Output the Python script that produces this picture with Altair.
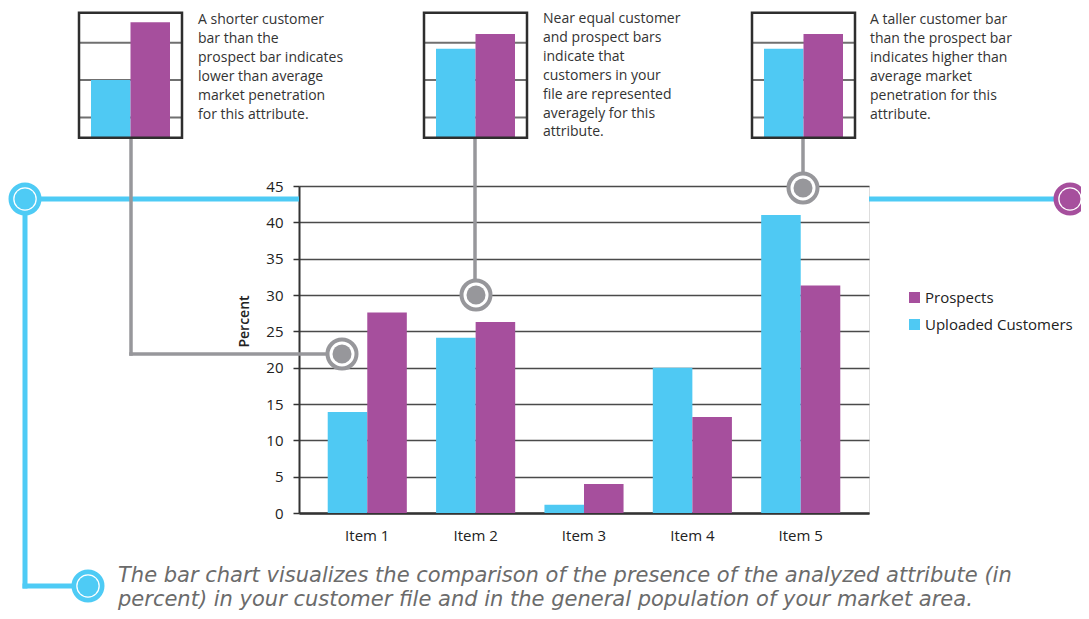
import altair as alt
import pandas as pd

# ---------------- data ----------------
items = ["Item 1", "Item 2", "Item 3", "Item 4", "Item 5"]
series_names = ["Uploaded Customers", "Prospects"]
legend_order = ["Prospects", "Uploaded Customers"]
customers = [13.9, 24.1, 1.15, 20.0, 41.0]
prospects = [27.6, 26.3, 4.0, 13.2, 31.3]
y_ticks = [0, 5, 10, 15, 20, 25, 30, 35, 40, 45]

mini1_values = [7.85, 15.7]
mini2_values = [12.1, 14.1]
mini3_values = [12.1, 14.1]
mini_grid = [2.75, 7.85, 12.9]

callout1 = ["A shorter customer", "bar than the", "prospect bar indicates",
            "lower than average", "market penetration", "for this attribute."]
callout2 = ["Near equal customer", "and prospect bars", "indicate that",
            "customers in your", "file are represented", "averagely for this",
            "attribute."]
callout3 = ["A taller customer bar", "than the prospect bar", "indicates higher than",
            "average market", "penetration for this", "attribute."]
footnote = ["The bar chart visualizes the comparison of the presence of the analyzed attribute (in",
            "percent) in your customer file and in the general population of your market area."]

# ---------------- styles ----------------
FONT = "Open Sans"
FOOT_FONT = "DejaVu Sans"
CYAN = "#4fc9f3"
PURPLE = "#a64f9d"
GRAY = "#97979b"
BLUE = "#4ecbf5"
DARK = "#333333"

W, H = 570, 327

df = pd.DataFrame({
    "item": items * 2,
    "series": [series_names[0]] * 5 + [series_names[1]] * 5,
    "value": customers + prospects,
})

color_scale = alt.Scale(domain=legend_order, range=[PURPLE, CYAN])

bars = alt.Chart(df).mark_bar().encode(
    x=alt.X("item:N", sort=items,
            scale=alt.Scale(domain=items, paddingInner=0.27, paddingOuter=0.265),
            axis=alt.Axis(title=None, labelAngle=0, ticks=False, labelPadding=15,
                          labelFontSize=15, labelFont=FONT, labelColor="#222",
                          labelFontWeight=500,
                          domainColor=DARK, domainWidth=2.5)),
    xOffset=alt.XOffset("series:N",
                        scale=alt.Scale(domain=series_names, paddingInner=0, paddingOuter=0)),
    y=alt.Y("value:Q", scale=alt.Scale(domain=[0, 45], nice=False),
            axis=alt.Axis(values=y_ticks, title="Percent", titleFont=FONT,
                          titleFontSize=14, titleFontWeight=600, titleColor="#222",
                          titleX=-55, titleY=135, titleAlign="center", titleBaseline="middle",
                          labelFont=FONT, labelFontSize=15, labelColor="#222",
                          labelPadding=10, tickSize=6, tickColor=DARK, tickWidth=1.5,
                          domainColor=DARK, domainWidth=2,
                          grid=True, gridColor="#4a4a4a", gridWidth=1.3)),
    color=alt.Color("series:N", scale=color_scale,
                    legend=alt.Legend(title=None, orient="none", legendX=608, legendY=104,
                                      symbolType="square", symbolSize=121,
                                      symbolStrokeWidth=0, symbolOpacity=1,
                                      labelFont=FONT, labelFontSize=15, labelColor="#222",
                                      labelFontWeight=500,
                                      rowPadding=11, labelOffset=3, padding=0)),
)

main = alt.layer(bars)

ONE = pd.DataFrame({"k": [0]})


def hline(x1, x2, y, color, w, cap="butt"):
    return alt.Chart(ONE).mark_rule(color=color, strokeWidth=w, strokeCap=cap).encode(
        x=alt.value(x1), x2=alt.value(x2), y=alt.value(y))


def vline(x, y1, y2, color, w, cap="butt"):
    return alt.Chart(ONE).mark_rule(color=color, strokeWidth=w, strokeCap=cap).encode(
        x=alt.value(x), y=alt.value(y1), y2=alt.value(y2))


def ring(x, y, color, ring_size, inner_size, sw):
    outer = alt.Chart(ONE).mark_point(shape="circle", filled=True, fill="white",
                                      stroke=color, strokeWidth=sw, size=ring_size,
                                      opacity=1, fillOpacity=1).encode(
        x=alt.value(x), y=alt.value(y))
    inner = alt.Chart(ONE).mark_point(shape="circle", filled=True, fill=color,
                                      strokeWidth=0, size=inner_size,
                                      opacity=1, fillOpacity=1).encode(
        x=alt.value(x), y=alt.value(y))
    return [outer, inner]


def text_block(lines, x, y, size, color, lh, font=FONT, style="normal"):
    return alt.Chart(ONE).mark_text(text=lines, align="left", baseline="top",
                                    font=font, fontSize=size, color=color,
                                    lineHeight=lh, fontStyle=style).encode(
        x=alt.value(x), y=alt.value(y))


def mini(values, bx0, bx1, fx0, fx1):
    yb, yt = -48.3, -173.3
    mdf = pd.DataFrame({"series": series_names, "value": values})
    gdf = pd.DataFrame({"g": mini_grid})
    yscale = alt.Scale(domain=[0, 17], range=[yb, yt], nice=False, zero=True)
    frame_bg = alt.Chart(ONE).mark_rect(fill="white", strokeWidth=0).encode(
        x=alt.value(fx0), x2=alt.value(fx1), y=alt.value(yt), y2=alt.value(yb))
    grid = alt.Chart(gdf).mark_rule(color="#707070", strokeWidth=2).encode(
        x=alt.value(fx0), x2=alt.value(fx1),
        y=alt.Y("g:Q", scale=yscale, axis=None))
    mbars = alt.Chart(mdf).mark_bar().encode(
        x=alt.X("series:N", sort=series_names,
                scale=alt.Scale(domain=series_names, range=[bx0, bx1],
                                paddingInner=0, paddingOuter=0),
                axis=None),
        y=alt.Y("value:Q", scale=yscale, axis=None),
        color=alt.Color("series:N", scale=color_scale, legend=None),
    )
    frame = alt.Chart(ONE).mark_rect(fill=None, fillOpacity=0, stroke="#2e2e2e",
                                     strokeWidth=2.5).encode(
        x=alt.value(fx0), x2=alt.value(fx1), y=alt.value(yt), y2=alt.value(yb))
    return alt.layer(frame_bg, grid, mbars, frame)


layers = [main]

# blue guide lines
layers += [
    hline(-274, 0, 13, BLUE, 5),
    hline(570, 771, 13, BLUE, 5),
    vline(-274, 13, 400, BLUE, 5, cap="square"),
    hline(-274, -211, 400, BLUE, 5, cap="square"),
]
# gray connectors
layers += [
    vline(-168, -48, 168, GRAY, 3.5, cap="square"),
    hline(-168, 43, 168, GRAY, 3.5, cap="square"),
    vline(176, -48, 109, GRAY, 3.5),
    vline(504, -48, 2, GRAY, 3.5),
]
# circles
layers += ring(43, 168, GRAY, 841, 361, 4)
layers += ring(177, 109, GRAY, 841, 361, 4)
layers += ring(504, 2, GRAY, 841, 361, 4)
layers += ring(-274, 13, BLUE, 800, 441, 4.7)
layers += ring(771, 13, PURPLE, 800, 441, 4.7)
layers += ring(-211, 400, BLUE, 800, 441, 4.7)

# mini charts
layers += [
    mini(mini1_values, -208, -129, -220, -117),
    mini(mini2_values, 137, 216, 125, 228),
    mini(mini3_values, 465, 544, 453, 556),
]

# texts
layers += [
    text_block(callout1, -101, -173, 14, "#333", 18.9),
    text_block(callout2, 244, -174, 14, "#333", 18.9),
    text_block(callout3, 571, -173, 14, "#333", 18.9),
    text_block(footnote, -181, 378.5, 21, "#6b6b6b", 24, font=FOOT_FONT, style="italic"),
]

chart = alt.layer(*layers).resolve_scale(
    x="independent", y="independent"
).properties(
    width=W, height=H,
    autosize=alt.AutoSizeParams(type="none"),
    padding={"left": 291, "top": 178, "right": 212, "bottom": 98},
).configure_view(
    stroke=DARK, strokeWidth=2
).configure(
    background="white"
)

chart.save("out.html", embed_options={"renderer": "svg", "actions": False})
